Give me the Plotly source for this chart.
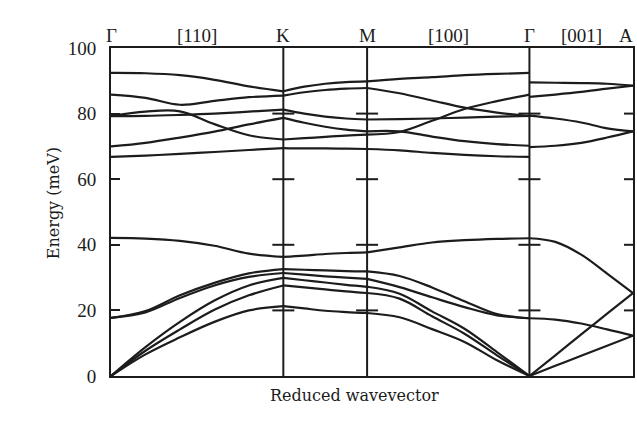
import plotly.graph_objects as go

# ---- path through the Brillouin zone ----
sym_labels = ["Γ", "K", "M", "Γ", "A"]
dir_labels = ["[110]", "", "[100]", "[001]"]
seg_lengths = [1.0, 0.486, 0.942, 0.601]   # relative lengths of Γ-K, K-M, M-Γ, Γ-A

# fractional positions along each segment
q_GK = [0, 0.2, 0.4, 0.6, 0.8, 1.0]
q_KM = [0, 0.25, 0.5, 0.75, 1.0]
q_MG = [0, 0.2, 0.4, 0.6, 0.8, 1.0]
q_GA = [0, 0.25, 0.5, 0.75, 1.0]

# ---- phonon branch energies (meV) ----
GK_branches = [
    [92.4, 92.3, 91.7, 90.3, 88.3, 86.8],
    [85.8, 84.8, 82.7, 83.9, 85.0, 85.5],
    [79.2, 79.3, 79.6, 80.0, 80.6, 81.2],
    [79.3, 80.6, 80.7, 76.8, 73.4, 72.1],
    [70.0, 71.1, 72.7, 74.5, 76.7, 78.7],
    [66.8, 67.2, 67.7, 68.3, 68.9, 69.5],
    [42.1, 41.9, 41.2, 39.7, 37.3, 36.3],
    [17.7, 19.8, 24.6, 28.4, 31.3, 32.6],
    [17.7, 19.4, 23.8, 27.6, 30.2, 31.4],
    [0.0, 8.8, 16.5, 23.0, 27.6, 29.9],
    [0.0, 7.7, 14.2, 20.2, 24.6, 27.6],
    [0.0, 6.6, 11.8, 16.5, 20.0, 21.3],
]
KM_branches = [
    [86.8, 88.2, 89.1, 89.6, 89.8],
    [85.5, 86.5, 87.2, 87.6, 87.8],
    [81.2, 80.0, 79.1, 78.5, 78.2],
    [78.7, 77.2, 76.0, 75.1, 74.6],
    [72.1, 72.5, 72.9, 73.3, 73.6],
    [69.5, 69.4, 69.4, 69.3, 69.2],
    [36.3, 36.7, 37.2, 37.5, 37.7],
    [32.6, 32.4, 32.2, 32.0, 31.9],
    [31.4, 30.9, 30.4, 30.0, 29.6],
    [29.9, 29.2, 28.5, 27.8, 27.2],
    [27.6, 27.0, 26.4, 25.8, 25.3],
    [21.3, 20.6, 19.9, 19.5, 19.2],
]
MG_branches = [
    [89.8, 90.6, 91.1, 91.7, 92.1, 92.4],
    [87.8, 86.2, 84.0, 81.8, 80.3, 79.2],
    [78.2, 78.3, 78.5, 78.8, 79.1, 79.3],
    [74.6, 74.6, 73.0, 71.6, 70.7, 70.2],
    [73.6, 74.4, 77.8, 81.4, 83.8, 85.8],
    [69.2, 68.8, 68.0, 67.4, 67.0, 66.8],
    [37.7, 39.2, 40.7, 41.4, 41.8, 42.0],
    [31.9, 30.5, 27.0, 22.8, 18.9, 17.6],
    [29.6, 27.1, 24.0, 21.0, 18.5, 17.6],
    [27.2, 25.1, 19.7, 14.4, 7.3, 0.0],
    [25.3, 23.6, 18.2, 12.9, 6.3, 0.0],
    [19.2, 17.9, 14.3, 10.4, 4.8, 0.0],
]
GA_branches = [
    [89.5, 89.4, 89.3, 89.1, 88.5],
    [85.1, 85.8, 86.6, 87.6, 88.5],
    [79.4, 78.5, 77.3, 75.5, 74.6],
    [69.8, 70.2, 71.1, 72.7, 74.6],
    [42.0, 40.9, 37.0, 31.2, 25.3],
    [17.6, 17.2, 16.0, 14.2, 12.3],
    [0.0, 6.3, 12.7, 19.0, 25.3],
    [0.0, 3.1, 6.2, 9.2, 12.3],
]

tick_energies = [20, 40, 60, 80]
y_ticks = [0, 20, 40, 60, 80, 100]

segments = [(q_GK, GK_branches), (q_KM, KM_branches), (q_MG, MG_branches), (q_GA, GA_branches)]
starts = [sum(seg_lengths[:i]) for i in range(len(seg_lengths))]
sym_pos = starts + [sum(seg_lengths)]
total = sym_pos[-1]

INK = "#1c1c1c"
fig = go.Figure()
for (qs, branches), x0, L in zip(segments, starts, seg_lengths):
    xs = [x0 + q * L for q in qs]
    for br in branches:
        fig.add_trace(go.Scatter(x=xs, y=br, mode="lines",
                                 line=dict(color=INK, width=2.2, shape="spline", smoothing=1.0),
                                 hoverinfo="skip", showlegend=False))

shapes = []
# interior vertical lines at K, M, Γ
for xp in sym_pos[1:-1]:
    shapes.append(dict(type="line", xref="x", yref="y", x0=xp, x1=xp, y0=0, y1=100,
                       line=dict(color=INK, width=2)))
    for e in tick_energies:
        shapes.append(dict(type="line", xref="x", yref="y", xsizemode="pixel", xanchor=xp,
                           x0=-11, x1=11, y0=e, y1=e, line=dict(color=INK, width=2)))
# right edge ticks (pointing inward)
for e in tick_energies:
    shapes.append(dict(type="line", xref="x", yref="y", xsizemode="pixel", xanchor=total,
                       x0=-9, x1=0, y0=e, y1=e, line=dict(color=INK, width=2)))

annotations = []
serif = "Liberation Serif"
for xp, lab in zip(sym_pos, sym_labels):
    edge = lab == "A"
    annotations.append(dict(x=xp, y=1, xref="x", yref="paper", yshift=13, text=lab,
                            showarrow=False, yanchor="middle",
                            xanchor="right" if edge else "center",
                            xshift=2 if edge else 0,
                            font=dict(family=serif, size=19, color=INK)))
for x0, L, lab in zip(starts, seg_lengths, dir_labels):
    if lab:
        annotations.append(dict(x=x0 + L / 2, y=1, xref="x", yref="paper", yshift=13, text=lab,
                                showarrow=False, yanchor="middle", xanchor="center",
                                font=dict(family=serif, size=19, color=INK)))
annotations.append(dict(x=(53 - 111) / 524, y=(376 - 203) / 328, xref="paper", yref="paper",
                        text="Energy (meV)", textangle=-90, showarrow=False,
                        xanchor="center", yanchor="middle",
                        font=dict(family="DejaVu Serif", size=16, color=INK)))
annotations.append(dict(x=(355 - 111) / 524, y=-(395 - 376) / 328, xref="paper", yref="paper",
                        text="Reduced wavevector", showarrow=False,
                        xanchor="center", yanchor="middle",
                        font=dict(family="DejaVu Serif", size=16, color=INK)))

fig.update_layout(
    width=637, height=432,
    margin=dict(l=111, r=2, t=48, b=56),
    paper_bgcolor="white", plot_bgcolor="white",
    shapes=shapes, annotations=annotations,
    xaxis=dict(range=[0, total], showgrid=False, zeroline=False, showticklabels=False,
               ticks="", showline=True, mirror=True, linecolor=INK, linewidth=2),
    yaxis=dict(range=[0, 100], tickvals=y_ticks, showgrid=False, zeroline=False,
               ticks="inside", ticklen=9, tickwidth=2, tickcolor=INK,
               showline=True, mirror=True, linecolor=INK, linewidth=2,
               ticklabelstandoff=9,
               tickfont=dict(family=serif, size=19, color=INK)),
)
fig.write_html("out.html")
